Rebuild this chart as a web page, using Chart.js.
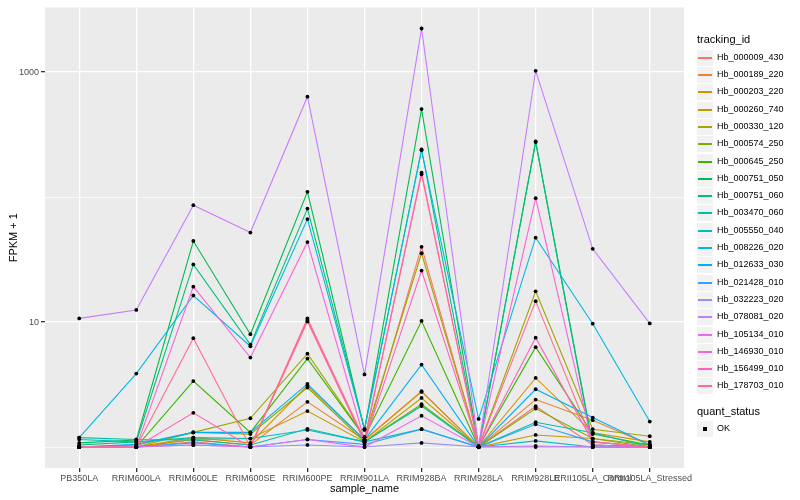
<!DOCTYPE html>
<html>
<head>
<meta charset="utf-8">
<script src="https://cdn.jsdelivr.net/npm/chart.js@4"></script>
<style>
  body { margin: 0; background: #fff; font-family: "Liberation Sans", Arial, sans-serif; }
  #wrap { position: relative; width: 800px; height: 500px; }
  #legend { position: absolute; left: 697px; top: 0; color: #000; }
  .lg-title { position: absolute; left: 0; font-size: 11px; white-space: nowrap; }
  .lg-row { position: absolute; left: 0; height: 17px; width: 100px; }
  .lg-key { position: absolute; left: 0; top: 0; width: 16px; height: 16px; background: #f2f2f2; }
  .lg-line { position: absolute; left: 1px; width: 14px; top: 7px; height: 2px; }
  .lg-dot { position: absolute; left: 6px; top: 6px; width: 4px; height: 4px; background: #000; }
  .lg-text { position: absolute; left: 20px; top: 2px; font-size: 9px; white-space: nowrap; }
</style>
</head>
<body>
<div id="wrap">
  <canvas id="grafico" width="800" height="500"></canvas>
  <div id="legend"></div>
</div>
<script>
// --- dados (FPKM + 1) ---
const categorias = ["PB350LA", "RRIM600LA", "RRIM600LE", "RRIM600SE", "RRIM600PE", "RRIM901LA",
  "RRIM928BA", "RRIM928LA", "RRIM928LE", "RRII105LA_Control", "RRII105LA_Stressed"];

const trackingIds = ["Hb_000009_430", "Hb_000189_220", "Hb_000203_220", "Hb_000260_740", "Hb_000330_120",
  "Hb_000574_250", "Hb_000645_250", "Hb_000751_050", "Hb_000751_060", "Hb_003470_060",
  "Hb_005550_040", "Hb_008226_020", "Hb_012633_030", "Hb_021428_010", "Hb_032223_020",
  "Hb_078081_020", "Hb_105134_010", "Hb_146930_010", "Hb_156499_010", "Hb_178703_010"];

const hb000009_430 = [1.0, 1.0, 1.10, 1.0, 10.1, 1.10, 40, 1.0, 2.12, 1.04, 1.0];
const hb000189_220 = [1.0, 1.0, 1.15, 1.04, 2.30, 1.14, 2.76, 1.0, 2.40, 1.64, 1.04];
const hb000203_220 = [1.0, 1.0, 1.19, 1.08, 3.1, 1.14, 2.80, 1.0, 3.57, 1.30, 1.10];
const hb000260_740 = [1.0, 1.0, 1.15, 1.17, 1.94, 1.10, 2.47, 1.0, 1.25, 1.17, 1.04];
const hb000330_120 = [1.0, 1.0, 1.31, 1.70, 5.58, 1.20, 35.5, 1.0, 17.6, 1.39, 1.22];
const hb000574_250 = [1.0, 1.04, 1.31, 1.27, 2.99, 1.10, 2.2, 1.0, 2.03, 1.17, 1.0];
const hb000645_250 = [1.0, 1.0, 3.37, 1.31, 5.1, 1.20, 10.2, 1.0, 6.3, 1.27, 1.04];
const hb000751_050 = [1.08, 1.14, 44.5, 8.0, 110, 1.37, 505, 1.0, 278, 1.04, 1.0];
const hb000751_060 = [1.04, 1.10, 28.9, 6.6, 80.8, 1.39, 240, 1.0, 275, 1.0, 1.0];
const hb003470_060 = [1.19, 1.15, 1.14, 1.04, 1.40, 1.10, 2.13, 1.0, 1.58, 1.30, 1.0];
const hb005550_040 = [1.15, 1.10, 1.19, 1.17, 1.37, 1.10, 1.39, 1.0, 1.12, 1.0, 1.0];
const hb008226_020 = [1.19, 3.87, 16.3, 6.4, 66.6, 1.39, 237, 1.68, 47.3, 9.7, 1.6];
const hb012633_030 = [1.0, 1.05, 1.31, 1.31, 3.2, 1.14, 4.56, 1.0, 2.9, 1.72, 1.04];
const hb021428_010 = [1.0, 1.0, 1.08, 1.0, 1.15, 1.05, 1.39, 1.0, 1.52, 1.10, 1.0];
const hb032223_020 = [1.0, 1.0, 1.04, 1.0, 1.04, 1.0, 1.08, 1.0, 1.02, 1.0, 1.0];
const hb078081_020 = [10.7, 12.5, 86, 52, 635, 3.81, 2230, 1.02, 1023, 38.5, 9.75];
const hb105134_010 = [1.0, 1.0, 1.04, 1.0, 1.15, 1.0, 1.78, 1.0, 1.0, 1.0, 1.0];
const hb146930_010 = [1.0, 1.0, 19.2, 5.2, 43.6, 1.14, 157, 1.0, 98, 1.04, 1.0];
const hb156499_010 = [1.0, 1.0, 1.88, 1.0, 10.4, 1.10, 25.8, 1.0, 7.5, 1.10, 1.0];
const hb178703_010 = [1.0, 1.0, 7.43, 1.0, 10.7, 1.14, 152, 1.0, 14.7, 1.10, 1.0];

const series = [hb000009_430, hb000189_220, hb000203_220, hb000260_740, hb000330_120,
  hb000574_250, hb000645_250, hb000751_050, hb000751_060, hb003470_060,
  hb005550_040, hb008226_020, hb012633_030, hb021428_010, hb032223_020,
  hb078081_020, hb105134_010, hb146930_010, hb156499_010, hb178703_010];

const yTicks = [1, 10, 100, 1000];
const yLabels = ["", "10", "", "1000"];

// paleta hue do ggplot (20 cores)
const cores = ["#F8766D", "#EA8331", "#D89000", "#C09B00", "#A3A500", "#7CAE00", "#39B600", "#00BB4E",
  "#00BF7D", "#00C1A3", "#00BFC4", "#00BAE0", "#00B0F6", "#35A2FF", "#9590FF", "#C77CFF",
  "#E76BF3", "#FA62DB", "#FF62BC", "#FF6C91"];

// --- datasets ---
const linhas = series.map((vals, i) => ({
  type: 'line',
  label: trackingIds[i],
  data: vals.map((v, j) => ({ x: j, y: v })),
  borderColor: cores[i],
  borderWidth: 1.1,
  pointRadius: 0,
  fill: false,
  tension: 0,
  order: -i
}));

const pontos = {
  type: 'scatter',
  label: 'OK',
  data: series.flatMap(vals => vals.map((v, j) => ({ x: j, y: v }))),
  backgroundColor: '#000',
  borderWidth: 0,
  pointRadius: 1.9,
  showLine: false,
  order: -100
};

const fundoPainel = {
  id: 'fundoPainel',
  beforeDraw(chart) {
    const { ctx, chartArea: a } = chart;
    ctx.save();
    ctx.fillStyle = '#EBEBEB';
    ctx.fillRect(a.left, a.top, a.right - a.left, a.bottom - a.top);
    ctx.restore();
  }
};

const fonte = "'Liberation Sans', Arial, sans-serif";

new Chart(document.getElementById("grafico").getContext("2d"), {
  type: 'line',
  data: { datasets: [...linhas, pontos] },
  options: {
    responsive: false,
    animation: false,
    events: [],
    layout: { padding: { top: 5, right: 116, left: 0, bottom: 0 } },
    plugins: { legend: { display: false }, tooltip: { enabled: false } },
    scales: {
      x: {
        type: 'linear',
        min: -0.6,
        max: 10.6,
        afterBuildTicks: s => { s.ticks = categorias.map((_, i) => ({ value: i })); },
        afterFit: s => { s.height = 32; },
        border: { display: false },
        grid: { color: '#ffffff', lineWidth: 1.3, tickColor: '#333333', tickLength: 4 },
        ticks: {
          autoSkip: false, maxRotation: 0, minRotation: 0, padding: 1,
          color: '#4D4D4D', font: { family: fonte, size: 9 },
          callback: v => categorias[v]
        },
        title: { display: true, text: 'sample_name', color: '#000', font: { family: fonte, size: 11 }, padding: { top: 0, bottom: 4 } }
      },
      y: {
        type: 'logarithmic',
        min: 0.68,
        max: 3288,
        afterBuildTicks: s => { s.ticks = yTicks.map(v => ({ value: v })); },
        afterFit: s => { s.width = 45; },
        border: { display: false },
        grid: {
          color: '#ffffff',
          lineWidth: c => (c.tick && yLabels[yTicks.indexOf(c.tick.value)] ? 1.3 : 0.7),
          tickColor: c => (c.tick && yLabels[yTicks.indexOf(c.tick.value)] ? '#333333' : 'rgba(0,0,0,0)'),
          tickLength: 4
        },
        ticks: {
          padding: 2, color: '#4D4D4D', font: { family: fonte, size: 9 },
          callback: v => { const k = yTicks.indexOf(v); return k >= 0 ? yLabels[k] : ''; }
        },
        title: { display: true, text: 'FPKM + 1', color: '#000', font: { family: fonte, size: 11 }, padding: { top: 7, bottom: 0 } }
      }
    }
  },
  plugins: [fundoPainel]
});

// --- legenda estilo ggplot ---
const legenda = document.getElementById("legend");
function addTitulo(txt, centroY) {
  const t = document.createElement("div");
  t.className = "lg-title";
  t.textContent = txt;
  t.style.top = Math.round(centroY - 7) + "px";
  legenda.appendChild(t);
}
function addLinha(txt, centroY, cor) {
  const r = document.createElement("div");
  r.className = "lg-row";
  r.style.top = Math.round(centroY - 8) + "px";
  const k = document.createElement("div");
  k.className = "lg-key";
  const m = document.createElement("div");
  m.className = cor ? "lg-line" : "lg-dot";
  if (cor) m.style.backgroundColor = cor;
  k.appendChild(m);
  const s = document.createElement("div");
  s.className = "lg-text";
  s.textContent = txt;
  r.appendChild(k);
  r.appendChild(s);
  legenda.appendChild(r);
}
addTitulo("tracking_id", 40);
trackingIds.forEach((id, i) => addLinha(id, 57.7 + i * 17.3, cores[i]));
addTitulo("quant_status", 412);
addLinha("OK", 429, null);
</script>
</body>
</html>
